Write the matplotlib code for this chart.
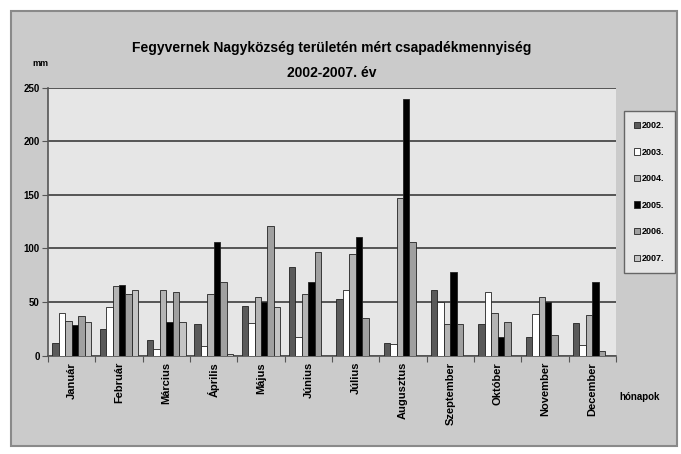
import matplotlib
matplotlib.use("Agg")
import matplotlib.pyplot as plt
import numpy as np
from matplotlib.patches import Rectangle

# adatok (mm), leolvasva az eredeti ábráról
months = ["Január", "Február", "Március", "Április", "Május", "Június",
          "Július", "Augusztus", "Szeptember", "Október", "November", "December"]
years = ["2002.", "2003.", "2004.", "2005.", "2006.", "2007."]
y2002 = [12, 25, 14, 29, 46, 83, 53, 12, 61, 29, 17, 30]
y2003 = [40, 45, 6, 9, 30, 17, 61, 11, 50, 59, 39, 10]
y2004 = [32, 65, 61, 57, 55, 57, 95, 147, 29, 40, 55, 38]
y2005 = [28, 66, 31, 106, 50, 69, 111, 239, 78, 17, 50, 69]
y2006 = [37, 57, 59, 69, 121, 97, 35, 106, 29, 31, 19, 4]
y2007 = [31, 61, 31, 1, 45, 0, 0, 0, 0, 0, 0, 0]
yticks = [0, 50, 100, 150, 200, 250]

series = [y2002, y2003, y2004, y2005, y2006, y2007]
colors = ["#5a5a5a", "#ffffff", "#b4b4b4", "#000000", "#a0a0a0", "#c4c4c4"]

plt.rcParams["font.family"] = ["Liberation Sans", "DejaVu Sans"]
plt.rcParams["font.weight"] = "bold"

W, H = 681, 454
fig = plt.figure(figsize=(W / 100, H / 100), dpi=100)
fig.patch.set_facecolor("white")

# chart area hatter
fig.patches.append(Rectangle((11 / W, 1 - 446 / H), 666 / W, 435 / H,
                             transform=fig.transFigure, facecolor="#cbcbcb",
                             edgecolor="#8a8a8a", linewidth=1.5, zorder=-1))

ax = fig.add_axes([48 / W, 1 - 355.5 / H, 568 / W, 268 / H])
ax.set_zorder(1)
ax.set_facecolor("#e6e6e6")

x = np.arange(len(months))
bw = 0.137
for i, (vals, c) in enumerate(zip(series, colors)):
    ax.bar(x + (i - 2.5) * bw, vals, width=bw, color=c, edgecolor="#222222",
           linewidth=0.6, label=years[i], zorder=3)

ax.set_xlim(-0.5, 11.5)
ax.set_ylim(0, 250)
ax.set_yticks(yticks)
ax.set_yticklabels([str(v) for v in yticks], fontsize=7, fontweight="bold")
ax.grid(axis="y", color="#555555", linewidth=1.4, zorder=1)
ax.set_axisbelow(True)
ax.set_xticks(np.arange(-0.5, 12, 1))
ax.set_xticklabels([])
ax.tick_params(axis="x", length=4, color="#555555")
ax.tick_params(axis="y", length=4, color="#555555", pad=2)
for m, xm in zip(months, x):
    ax.text(xm, -6, m, rotation=90, ha="center", va="top", fontsize=8,
            fontweight="bold")

for s in ["top", "right"]:
    ax.spines[s].set_visible(False)
for s in ["left", "bottom"]:
    ax.spines[s].set_color("#555555")
    ax.spines[s].set_linewidth(1.2)

fig.text(40 / W, 1 - 64 / H, "mm", ha="center", va="center", fontsize=6.5,
         fontweight="bold")
fig.text(640 / W, 1 - 397 / H, "hónapok", ha="center", va="center",
         fontsize=7, fontweight="bold")
fig.text(332 / W, 1 - 48 / H, "Fegyvernek Nagyközség területén mért csapadékmennyiség",
         ha="center", va="center", fontsize=10, fontweight="bold")
fig.text(332 / W, 1 - 73 / H, "2002-2007. év", ha="center", va="center",
         fontsize=10, fontweight="bold")

leg = ax.legend(loc="upper left", bbox_to_anchor=(624 / W, 1 - 111 / H),
                bbox_transform=fig.transFigure, fontsize=6.5, frameon=True,
                fancybox=False, handlelength=0.7, handleheight=0.7,
                handletextpad=0.2, labelspacing=1.95, borderpad=1.1,
                borderaxespad=0)
leg.get_frame().set_facecolor("#e6e6e6")
leg.get_frame().set_edgecolor("#666666")
leg.get_frame().set_linewidth(1.0)
leg.get_frame().set_alpha(1)

fig.savefig("out.png", dpi=100, facecolor=fig.get_facecolor())
